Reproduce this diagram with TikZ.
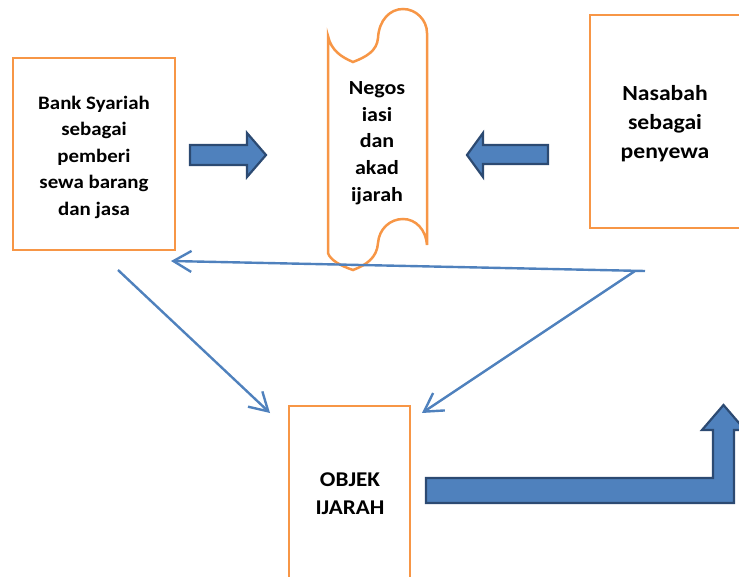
\documentclass[tikz,border=0pt]{standalone}
\usepackage{fontspec}
\setmainfont{Carlito}[FakeStretch=1.1]
\usetikzlibrary{arrows.meta}
\definecolor{boxorange}{HTML}{F79646}
\definecolor{arrowblue}{HTML}{4F81BD}
\definecolor{arrowdark}{HTML}{2C4A72}
\tikzset{
  box/.style={draw=boxorange, line width=2.5pt},
  label/.style={align=center, font=\bfseries},
  thin/.style={draw=arrowblue, line width=2.4pt, -{Straight Barb[length=18pt, width=21pt, line width=2.4pt]}},
  block/.style={fill=arrowblue, draw=arrowdark, line width=2.2pt, line join=miter}
}
\begin{document}
\begin{tikzpicture}[x=1pt, y=-1pt]
\useasboundingbox (0,0) rectangle (739,577);
\begin{scope}
\clip (0,0) rectangle (739,577);
% boxes
\draw[box] (13,58) rectangle (175,250);
\node[label, font=\bfseries\fontsize{19}{26.5}\selectfont] (bank) at (94,157) {Bank Syariah\\sebagai\\pemberi\\sewa barang\\dan jasa};
\draw[box] (590,15) rectangle (760,228);
\node[label, font=\bfseries\fontsize{21.5}{29}\selectfont] (nasabah) at (665,124) {Nasabah\\sebagai\\penyewa};
\draw[box] (289,406) rectangle (410,600);
\node[label, font=\bfseries\fontsize{21}{28}\selectfont] (objek) at (350,494) {OBJEK\\IJARAH};
% scroll
\draw[box] (328,36) .. controls (331,50) and (341,57) .. (353,62)
  .. controls (366,57) and (377,51) .. (378,38)
  .. controls (379,20) and (390,9) .. (403,9)
  .. controls (416,9) and (427,20) .. (427,33)
  -- (427,245)
  .. controls (426,230) and (416,219) .. (403,219)
  .. controls (390,219) and (379,229) .. (378,243)
  .. controls (377,258) and (366,265) .. (353,270)
  .. controls (341,266) and (330,260) .. (328,253) -- cycle;
\node[label, font=\bfseries\fontsize{20}{26.7}\selectfont] (nego) at (377,143) {Negos\\iasi\\dan\\akad\\ijarah};
% block arrows
\draw[block] (190,145) -- (247,145) -- (247,133) -- (266,155) -- (247,177) -- (247,165) -- (190,165) -- cycle;
\draw[block] (548,145) -- (483,145) -- (483,133) -- (467,155) -- (483,177) -- (483,164) -- (548,164) -- cycle;
\draw[block] (426,478) -- (713,478) -- (713,430) -- (702,430) -- (723.5,405) -- (745,430) -- (734,430) -- (734,503) -- (426,503) -- cycle;
% thin arrows
\coordinate (r) at (645,271);
\coordinate (d) at (635,271);
\coordinate (bankin) at (171,261);
\coordinate (bankout) at (118,270);
\coordinate (objl) at (270,413);
\coordinate (objr) at (422,413);
\draw[thin] (r) -- (bankin);
\draw[thin] (d) -- (objr);
\draw[thin] (bankout) -- (objl);
\end{scope}
\end{tikzpicture}
\end{document}
